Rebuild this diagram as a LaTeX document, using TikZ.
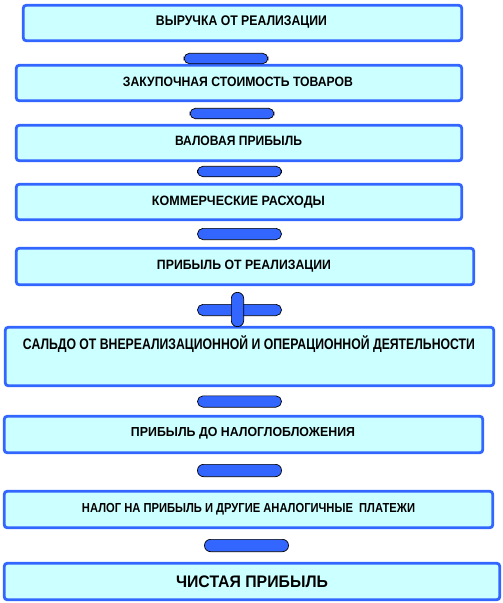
\documentclass[tikz,border=0pt]{standalone}
\usepackage{fontspec}
\setmainfont{Liberation Sans}
\usepackage{graphicx}
\definecolor{boxfill}{HTML}{CCFFFF}
\definecolor{boxline}{HTML}{3366FF}
\definecolor{pillfill}{HTML}{3366FF}
\tikzset{
 stagebox/.style={draw=boxline, fill=boxfill, line width=2.8pt, rounded corners=3pt, inner sep=0pt},
 pill/.style={draw=black, fill=pillfill, line width=0.7pt, rounded corners=5.5pt, inner sep=0pt, minimum width=84pt, minimum height=10.5pt},
 lbl/.style={font=\bfseries, inner sep=0pt}
}
\newlength{\capht}
\newcommand{\fitwh}[3]{\settoheight{\capht}{Н}\resizebox{#1}{#2}{\raisebox{0pt}[\capht][0pt]{#3}}}
\begin{document}
\begin{tikzpicture}[x=1pt,y=1pt]
\useasboundingbox (0,0) rectangle (503,-603);
% boxes
\node[stagebox, minimum width=438.5pt, minimum height=35.5pt] (b1) at (242.5,-23) {};
\node[stagebox, minimum width=445.5pt, minimum height=35.5pt] (b2) at (239,-83) {};
\node[stagebox, minimum width=445.5pt, minimum height=35.5pt] (b3) at (239,-143) {};
\node[stagebox, minimum width=445.5pt, minimum height=35.5pt] (b4) at (239,-202) {};
\node[stagebox, minimum width=457.5pt, minimum height=36.5pt] (b5) at (245,-266.5) {};
\node[stagebox, minimum width=488.5pt, minimum height=58.5pt] (b6) at (249.5,-356.5) {};
\node[stagebox, minimum width=478.5pt, minimum height=36.5pt] (b7) at (243.5,-434.5) {};
\node[stagebox, minimum width=488.5pt, minimum height=36.5pt] (b8) at (248.5,-509.5) {};
\node[stagebox, minimum width=495.5pt, minimum height=36.5pt] (b9) at (252,-581.5) {};
% labels
\node[lbl] (t1) at (241.5,-21) {\fitwh{171pt}{9.6pt}{ВЫРУЧКА ОТ РЕАЛИЗАЦИИ}};
\node[lbl] (t2) at (238,-82) {\fitwh{230pt}{9.3pt}{ЗАКУПОЧНАЯ СТОИМОСТЬ ТОВАРОВ}};
\node[lbl] (t3) at (238.5,-141) {\fitwh{127pt}{9.3pt}{ВАЛОВАЯ ПРИБЫЛЬ}};
\node[lbl] (t4) at (238.5,-201) {\fitwh{173pt}{9.3pt}{КОММЕРЧЕСКИЕ РАСХОДЫ}};
\node[lbl] (t5) at (244,-265) {\fitwh{174pt}{9.3pt}{ПРИБЫЛЬ ОТ РЕАЛИЗАЦИИ}};
\node[lbl] (t6) at (249,-344.5) {\fitwh{452pt}{10.5pt}{САЛЬДО ОТ ВНЕРЕАЛИЗАЦИОННОЙ И ОПЕРАЦИОННОЙ ДЕЯТЕЛЬНОСТИ}};
\node[lbl] (t7) at (243,-432) {\fitwh{224pt}{9pt}{ПРИБЫЛЬ ДО НАЛОГЛОБЛОЖЕНИЯ}};
\node[lbl] (t8) at (248.5,-508) {\fitwh{333pt}{9pt}{НАЛОГ НА ПРИБЫЛЬ И ДРУГИЕ АНАЛОГИЧНЫЕ\ \ ПЛАТЕЖИ}};
\node[lbl] (t9) at (252,-582) {\fitwh{152pt}{11.5pt}{ЧИСТАЯ ПРИБЫЛЬ}};
% operator signs
\node[pill] (m1) at (226,-58.5) {};
\node[pill] (m2) at (232,-113.5) {};
\node[pill] (m3) at (239.5,-171.5) {};
\node[pill, minimum height=11.3pt] (m4) at (239.5,-234) {};
\node[pill, minimum height=11.3pt] (ph) at (239.5,-310) {};
\node[pill, minimum width=12.3pt, minimum height=34.3pt, rounded corners=6pt] (pv) at (237.5,-309.5) {};
\node[pill, minimum height=11.3pt] (m5) at (239.5,-401.5) {};
\node[pill, minimum height=12.3pt, rounded corners=6pt] (m6) at (239.5,-470.5) {};
\node[pill, minimum height=12.3pt, rounded corners=6pt] (m7) at (246.5,-545.5) {};
\end{tikzpicture}
\end{document}
